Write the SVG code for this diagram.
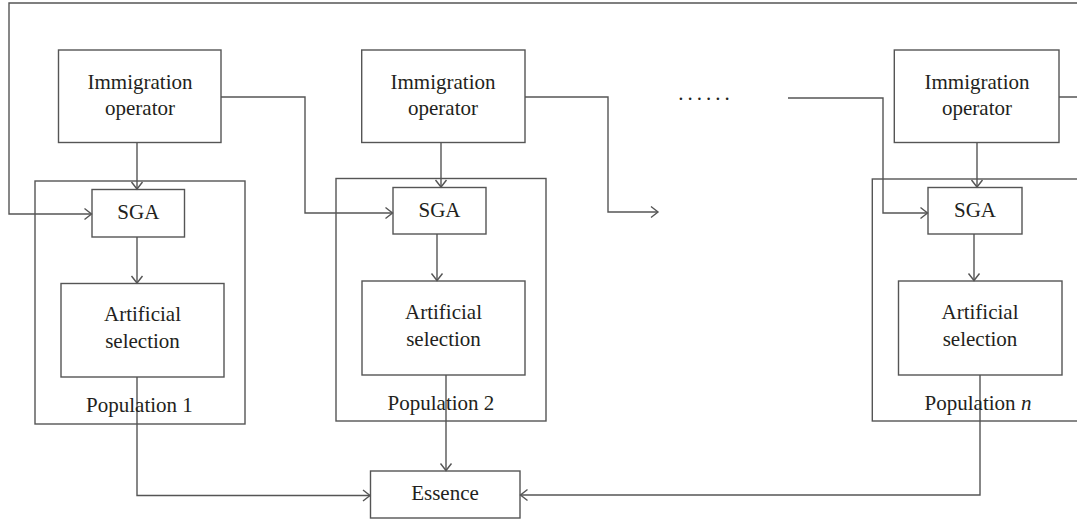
<svg xmlns="http://www.w3.org/2000/svg" width="1077" height="519" viewBox="0 0 1077 519">
<style>
.box{fill:none;stroke:#555;stroke-width:1.4}
.ln{fill:none;stroke:#555;stroke-width:1.4}
.arr{marker-end:url(#ah)}
text{font-family:"Liberation Serif","Times New Roman",serif;font-size:21px;fill:#231f20;text-anchor:middle}
</style>
<defs>
<marker id="ah" markerUnits="userSpaceOnUse" markerWidth="12" markerHeight="14" refX="9" refY="7" orient="auto">
<path d="M2,1.5 L9,7 L2,12.5" fill="none" stroke="#555" stroke-width="1.4"/>
</marker>
</defs>
<rect width="1077" height="519" fill="#fff"/>
<g id="connectors">
<path class="ln arr" d="M1059,97 H1090 V3 H9 V214 H91.5"/>
<path class="ln arr" d="M137,142.5 V189"/>
<path class="ln arr" d="M221,97 H305 V213 H392.5"/>
<path class="ln arr" d="M137,237 V283"/>
<path class="ln arr" d="M137,377 V495.5 H370"/>
<path class="ln arr" d="M441,142.5 V187"/>
<path class="ln arr" d="M437,234 V280.5"/>
<path class="ln arr" d="M446,375 V470.5"/>
<path class="ln arr" d="M525,97 H608 V212 H658"/>
<path class="ln arr" d="M788,98 H883 V213 H927.5"/>
<path class="ln arr" d="M977,142.5 V187"/>
<path class="ln arr" d="M974,234 V280.5"/>
<path class="ln arr" d="M980,375 V495 H520.5"/>
</g>
<g id="imm1"><rect class="box" x="58.5" y="50" width="162.5" height="92.5"/><text x="140" y="88.5">Immigration</text><text x="140" y="114.5">operator</text></g>
<g id="imm2"><rect class="box" x="361.7" y="50" width="163.3" height="92.5"/><text x="443" y="88.5">Immigration</text><text x="443" y="114.5">operator</text></g>
<g id="immn"><rect class="box" x="894.3" y="50" width="164.7" height="92.5"/><text x="977" y="88.5">Immigration</text><text x="977" y="114.5">operator</text></g>
<g id="dots"><text x="706" y="100" letter-spacing="4">......</text></g>
<g id="pop1"><rect class="box" x="35" y="181" width="210" height="243"/><text x="139.5" y="411.5">Population 1</text></g>
<g id="pop2"><rect class="box" x="336" y="178.5" width="210" height="242.5"/><text x="441" y="410">Population 2</text></g>
<g id="popn"><rect class="box" x="872.3" y="179" width="220" height="242"/><text x="978" y="410">Population <tspan font-style="italic">n</tspan></text></g>
<g id="sga1"><rect class="box" x="92" y="189.5" width="92.5" height="47.5"/><text x="138.3" y="219">SGA</text></g>
<g id="sga2"><rect class="box" x="393" y="187.5" width="93" height="46.5"/><text x="439.5" y="217">SGA</text></g>
<g id="sgan"><rect class="box" x="928" y="187.5" width="94" height="46.5"/><text x="975" y="217">SGA</text></g>
<g id="as1"><rect class="box" x="61" y="283.5" width="163" height="93.5"/><text x="142.5" y="321">Artificial</text><text x="142.5" y="347.5">selection</text></g>
<g id="as2"><rect class="box" x="362" y="281" width="163" height="94"/><text x="443.5" y="319">Artificial</text><text x="443.5" y="345.5">selection</text></g>
<g id="asn"><rect class="box" x="898.5" y="281" width="163.5" height="94"/><text x="980" y="319">Artificial</text><text x="980" y="345.5">selection</text></g>
<g id="essence"><rect class="box" x="370.5" y="471" width="149.5" height="47"/><text x="445" y="499.5">Essence</text></g>
</svg>
